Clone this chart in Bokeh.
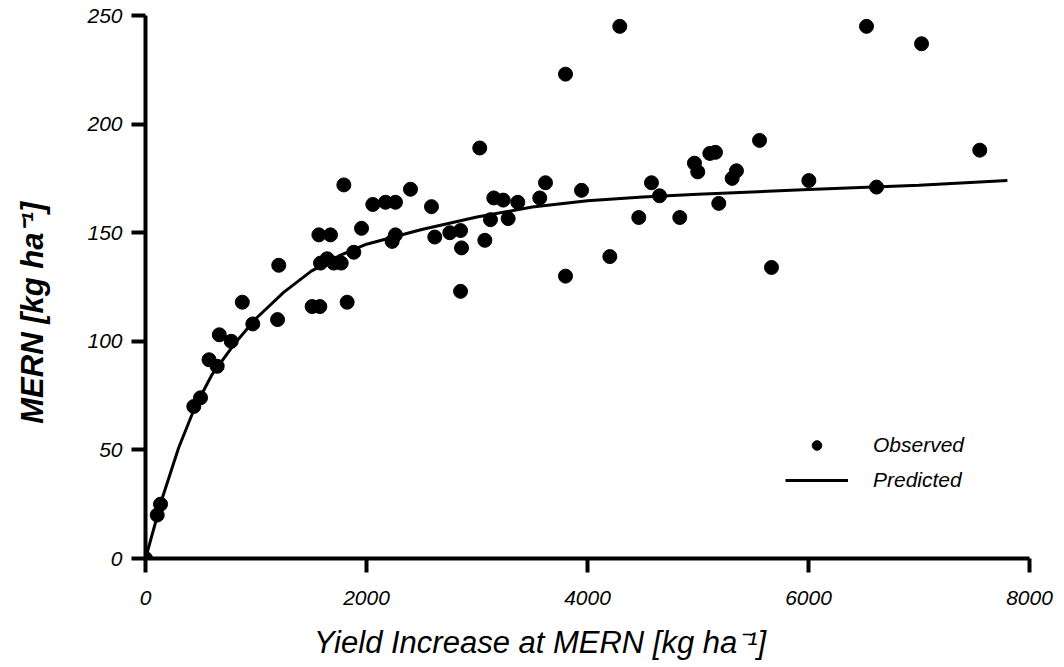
from bokeh.plotting import figure
from bokeh.models import Range1d, FixedTicker, Legend, LegendItem, LinearAxis
from bokeh.embed import file_html
from bokeh.resources import INLINE

# Observed economic optimum N rate vs. yield increase (kg/ha)
obs_yield = [0, 106, 136, 437, 498, 575, 649, 668, 776, 876, 971, 1195, 1206,
             1508, 1578, 1569, 1674, 1584, 1644, 1704, 1771, 1825, 1795, 1885,
             1955, 2057, 2172, 2262, 2232, 2262, 2398, 2588, 2618, 2754, 2851,
             2860, 2851, 3025, 3071, 3122, 3152, 3237, 3282, 3369, 3568, 3620,
             3801, 3801, 3946, 4202, 4292, 4464, 4579, 4652, 4835, 4968, 4998,
             5107, 5158, 5188, 5309, 5348, 5557, 5665, 6003, 6525, 6616, 7023,
             7550]
obs_mern = [0, 20, 25, 70, 74, 91.5, 88.5, 103, 100, 118, 108, 110, 135,
            116, 116, 149, 149, 136, 138, 136, 136, 118, 172, 141,
            152, 163, 164, 164, 146, 149, 170, 162, 148, 150, 151,
            143, 123, 189, 146.5, 156, 166, 165, 156.5, 164, 166, 173,
            223, 130, 169.5, 139, 245, 157, 173, 167, 157, 182, 178,
            186.5, 187, 163.5, 175, 178.5, 192.5, 134, 174, 245, 171, 237,
            188]

# Fitted response curve
pred_yield = [0, 150, 300, 450, 600, 800, 1000, 1250, 1500, 1750, 2000, 2500,
              3000, 3500, 4000, 4500, 5000, 6000, 7000, 7800]
pred_mern = [0, 27.5, 51, 70, 84.5, 98.5, 110.5, 122.5, 132.3, 139.3, 144.7,
             151.5, 157.2, 161.8, 164.7, 166.4, 167.7, 169.9, 171.9, 174]

x_ticks = [0, 2000, 4000, 6000, 8000]
y_ticks = [0, 50, 100, 150, 200, 250]

NBSP = "\u00a0"
# trailing non-breaking spaces pull each centred title toward its axis origin
x_title = "Yield Increase at MERN [kg ha\u207b\u00b9]" + NBSP * 11
y_title = "MERN [kg ha\u207b\u00b9]" + NBSP * 6

FONT = "Liberation Sans"

p = figure(width=1064, height=667, output_backend="svg", toolbar_location=None,
           x_range=Range1d(0, 8000), y_range=Range1d(0, 250),
           min_border_left=145, min_border_right=35,
           min_border_top=15, min_border_bottom=109)

p.outline_line_color = None
p.xgrid.visible = False
p.ygrid.visible = False
p.background_fill_color = "white"
p.border_fill_color = "white"

for ax, ticks in ((p.xaxis[0], x_ticks), (p.yaxis[0], y_ticks)):
    ax.ticker = FixedTicker(ticks=ticks, minor_ticks=[])
    ax.major_label_overrides = {t: str(t) for t in ticks}
    ax.axis_line_width = 4
    ax.axis_line_color = "black"
    ax.major_tick_line_width = 4
    ax.major_tick_line_color = "black"
    ax.major_tick_out = 14
    ax.major_tick_in = 0
    ax.minor_tick_out = 0
    ax.minor_tick_in = 0
    ax.major_label_text_font = FONT
    ax.major_label_text_font_style = "italic"
    ax.major_label_text_font_size = "21px"
    ax.major_label_text_color = "black"

p.xaxis.major_label_standoff = 18
p.yaxis.major_label_standoff = 9


def title_axis(label, size, style, standoff):
    """A tick-less, line-less axis that only carries a title."""
    return LinearAxis(ticker=FixedTicker(ticks=[], minor_ticks=[]),
                      axis_line_color=None,
                      major_tick_out=0, major_tick_in=0,
                      minor_tick_out=0, minor_tick_in=0,
                      major_label_standoff=0,
                      axis_label=label, axis_label_standoff=standoff,
                      axis_label_text_font=FONT,
                      axis_label_text_font_style=style,
                      axis_label_text_font_size=size,
                      axis_label_text_color="black")


p.add_layout(title_axis(x_title, "31px", "italic", 17), "below")
p.add_layout(title_axis(y_title, "31px", "bold italic", 35), "left")

ln = p.line(pred_yield, pred_mern, line_width=3, line_color="black")
sc = p.scatter(obs_yield, obs_mern, size=14, marker="circle",
               fill_color="black", line_color="black")

legend = Legend(
    items=[LegendItem(label="Observed", renderers=[sc]),
           LegendItem(label="Predicted", renderers=[ln])],
    location=(640, 66), orientation="vertical",
    glyph_width=63, glyph_height=24, label_height=24,
    label_standoff=25, spacing=11, padding=0, margin=0,
    border_line_color=None, background_fill_alpha=0,
    label_text_font=FONT, label_text_font_style="italic",
    label_text_font_size="21px", label_text_color="black",
)
p.add_layout(legend)

open("out.html", "w").write(file_html(p, INLINE))
